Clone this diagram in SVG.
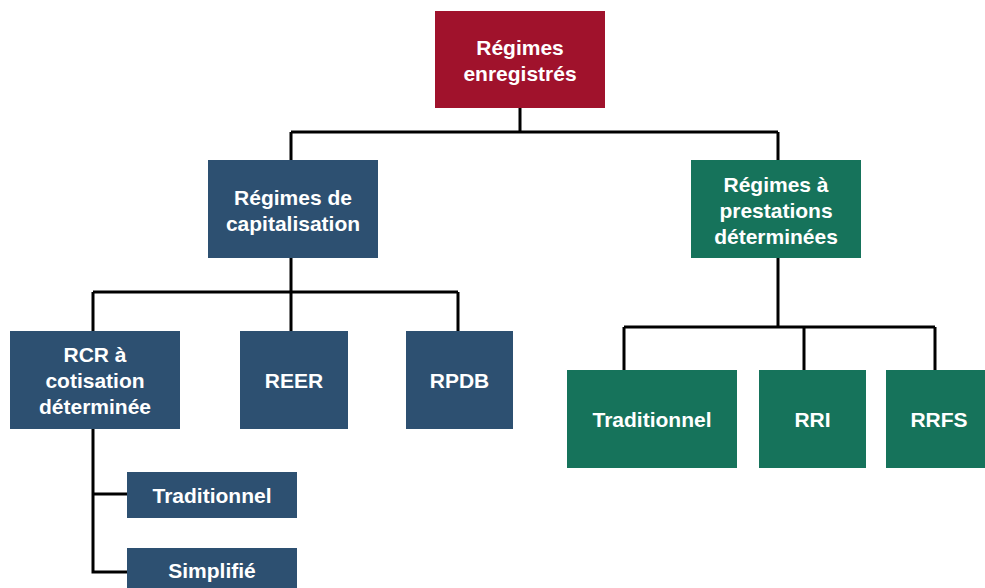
<svg xmlns="http://www.w3.org/2000/svg" width="985" height="588" viewBox="0 0 985 588">
<style>
.t{font-family:"Liberation Sans",Arial,sans-serif;font-weight:bold;font-size:21px;fill:#fff;text-anchor:middle}
.red{fill:#a0122c}.blue{fill:#2d5071}.green{fill:#16735b}
.c{fill:none;stroke:#000;stroke-width:3}
</style>
<rect width="985" height="588" fill="#fff"/>
<g id="connectors" class="c">
<path d="M520 108V132M291 132H778M291 132V160M778 132V160"/>
<path d="M291 258V292M93 292H458M93 292V331M291 292V331M458 292V331"/>
<path d="M778 258V327M624 327H935M624 327V370M804 327V370M935 327V370"/>
<path d="M93 429V572H127M93 494H127"/>
</g>
<g id="n-root"><rect class="red" x="435" y="11" width="170" height="97"/><text class="t" x="520" y="55">Régimes</text><text class="t" x="520" y="81">enregistrés</text></g>
<g id="n-cap"><rect class="blue" x="208" y="160" width="170" height="98"/><text class="t" x="293" y="205">Régimes de</text><text class="t" x="293" y="231">capitalisation</text></g>
<g id="n-pd"><rect class="green" x="691" y="160" width="170" height="98"/><text class="t" x="776" y="192">Régimes à</text><text class="t" x="776" y="218">prestations</text><text class="t" x="776" y="244">déterminées</text></g>
<g id="n-rcr"><rect class="blue" x="10" y="331" width="170" height="98"/><text class="t" x="95" y="362">RCR à</text><text class="t" x="95" y="388">cotisation</text><text class="t" x="95" y="414">déterminée</text></g>
<g id="n-reer"><rect class="blue" x="240" y="331" width="108" height="98"/><text class="t" x="294" y="388">REER</text></g>
<g id="n-rpdb"><rect class="blue" x="406" y="331" width="107" height="98"/><text class="t" x="459.500" y="388">RPDB</text></g>
<g id="n-trad2"><rect class="green" x="567" y="370" width="170" height="98"/><text class="t" x="652" y="427">Traditionnel</text></g>
<g id="n-rri"><rect class="green" x="759" y="370" width="107" height="98"/><text class="t" x="812.500" y="427">RRI</text></g>
<g id="n-rrfs"><rect class="green" x="886" y="370" width="99" height="98"/><text class="t" x="939" y="427">RRFS</text></g>
<g id="n-trad1"><rect class="blue" x="127" y="472" width="170" height="46"/><text class="t" x="212" y="503">Traditionnel</text></g>
<g id="n-simp"><rect class="blue" x="127" y="548" width="170" height="40"/><text class="t" x="212" y="578">Simplifié</text></g>
</svg>
